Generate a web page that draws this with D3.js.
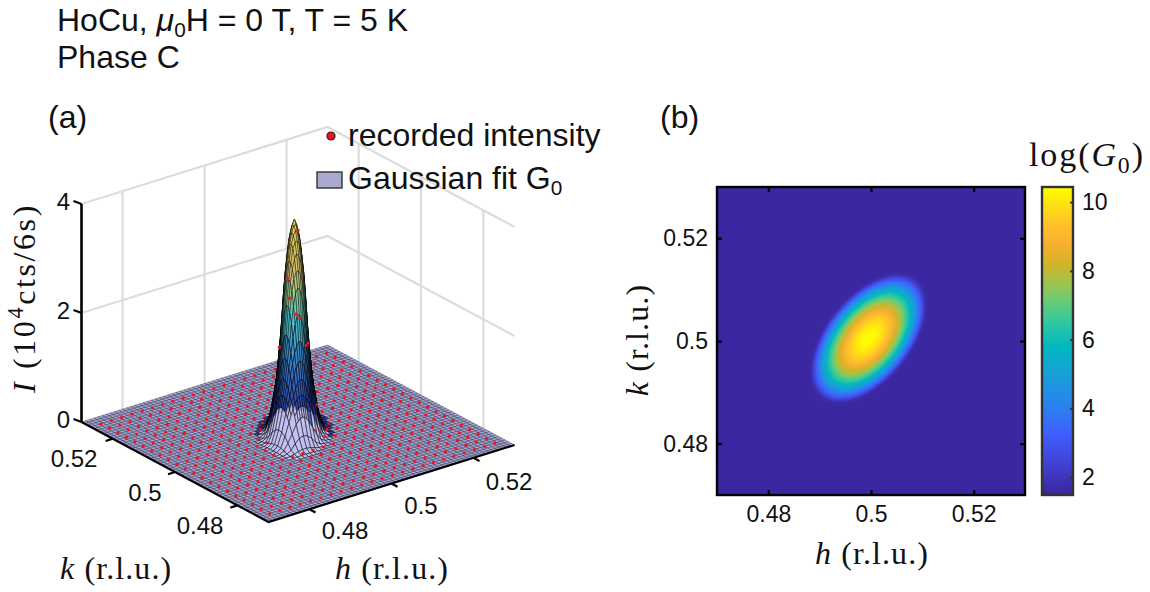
<!DOCTYPE html>
<html><head><meta charset="utf-8">
<script src="https://cdn.jsdelivr.net/npm/d3@7"></script>
<style>
html,body{margin:0;padding:0;background:#fff}
svg{display:block}
text{fill:#111}
.sans{font-family:"Liberation Sans",Arial,sans-serif}
.serif{font-family:"Liberation Serif","Times New Roman",serif}
</style></head><body>
<svg id="c" width="1150" height="592" xmlns="http://www.w3.org/2000/svg"></svg>
<script>
// ---------- values ----------
const hDomain = [0.47, 0.53];
const kDomain = [0.47, 0.53];
const zDomain = [0, 4];
const planarTicks = [0.48, 0.5, 0.52];
const zTicks = [0, 2, 4];
const colorTicks = [2, 4, 6, 8, 10];
const colorDomain = [1.48, 10.44];

// fit centre and ellipse of the footprint (rim of the floor in panel b)
const fitCentre = [0.4995, 0.5005];
const fitSemiAxes = [0.0146, 0.0082];
const fitAngleDeg = 51;

// log(G0) read against the elliptical radius (1 = rim)
const logRadius = [0, 0.1, 0.2, 0.3, 0.4, 0.5, 0.6, 0.7, 0.8, 0.9, 0.96, 1, 1.04, 2];
const logLevel  = [10.44, 10.35, 10.09, 9.65, 9.03, 8.24, 7.27, 6.13, 4.81, 3.31, 2.33, 1.72, 1.56, 1.56];

// fitted intensity (10^4 cts/6s) read against the same radius
const peakRadius = [0, 0.07, 0.143, 0.24, 0.33, 0.43, 0.57, 0.67, 0.75, 0.85, 2];
const peakHeight = [3.93, 3.8, 3.5, 2.8, 1.75, 0.97, 0.35, 0.08, 0.012, 0, 0];

// recorded intensity lattice
const latticeH = [0.4725,0.475,0.4775,0.48,0.4825,0.485,0.4875,0.49,0.4925,0.495,0.4975,0.5,0.5025,0.505,0.5075,0.51,0.5125,0.515,0.5175,0.52,0.5225,0.525,0.5275];
const latticeK = [0.473,0.4757,0.4784,0.4811,0.4838,0.4865,0.4892,0.4919,0.4946,0.4973,0.5,0.5027,0.5054,0.5081,0.5108,0.5135,0.5162,0.5189,0.5216,0.5243,0.527];
const recordedH = [0.495, 0.4975, 0.5, 0.5025, 0.505];
const recordedK = [0.5054, 0.5027, 0.5, 0.4973, 0.4946];
const recordedRows = [
  [0.02, 0.12, 0.45, 0.35, 0.06],
  [0.08, 1.56, 2.40, 1.97, 0.25],
  [0.18, 2.90, 3.73, 1.60, 0.12],
  [0.15, 2.33, 1.70, 0.55, 0.04],
  [0.06, 0.35, 0.22, 0.05, 0.01]
];

// colour stops
const colorStopLevels = [1.48, 2.5, 3.3, 4.0, 5.0, 5.8, 6.5, 7.2, 7.8, 8.2, 8.8, 9.4, 10.0, 10.44];
const colorStopValues = ["#3b249c","#4045d8","#4060ff","#2a80f0","#18a0d8","#00b8c0","#30c8a0","#70cc70","#b0c040","#d0b428","#f8b030","#ffc428","#ffe410","#ffff00"];
const surfaceStopHeights = [0, 0.45, 1.1, 1.7, 2.2, 2.6, 3, 3.5, 3.93];
const surfaceStopValues = ["#1a1a88","#24309c","#3a6ed0","#3c9ed8","#50c8cc","#94d090","#d8c878","#e8d060","#ecdc70"];

// ---------- helpers ----------
const svg = d3.select("#c");
const colour = d3.scaleLinear().domain(colorStopLevels).range(colorStopValues).clamp(true);
const surfColour = d3.scaleLinear().domain(surfaceStopHeights).range(surfaceStopValues).clamp(true);
const levelAt = d3.scaleLinear().domain(logRadius).range(logLevel).clamp(true);
const heightAt = d3.scaleLinear().domain(peakRadius).range(peakHeight).clamp(true);
const ca = Math.cos(fitAngleDeg*Math.PI/180), sa = Math.sin(fitAngleDeg*Math.PI/180);
function ellRadius(h,k){
  const dx=h-fitCentre[0], dy=k-fitCentre[1];
  const u=(dx*ca+dy*sa)/fitSemiAxes[0], v=(-dx*sa+dy*ca)/fitSemiAxes[1];
  return Math.hypot(u,v);
}

function addText(g,x,y,cls,size,parts,opts={}){
  const t=g.append("text").attr("x",x).attr("y",y).attr("class",cls).style("font-size",size+"px");
  if(opts.anchor) t.attr("text-anchor",opts.anchor);
  if(opts.rotate) t.attr("transform",`rotate(${opts.rotate} ${x} ${y})`);
  if(opts.spacing) t.style("letter-spacing",opts.spacing+"px");
  let carry=0;
  parts.forEach(p=>{
    const s=t.append("tspan").text(p.t);
    let dy=carry; carry=0;
    if(p.i) s.style("font-style","italic");
    if(p.sub){const d=size*.2; dy+=d; carry=-d; s.style("font-size",(size*p.sub)+"px");}
    if(p.sup){const d=-size*.36; dy+=d; carry=-d; s.style("font-size",(size*p.sup)+"px");}
    if(dy) s.attr("dy",dy);
  });
  return t;
}

// ---------- panel (a): 3D projection ----------
const origin=[268.5,522];
const hX=d3.scaleLinear().domain(hDomain).range([0,246]);
const hY=d3.scaleLinear().domain(hDomain).range([0,-77]);
const kX=d3.scaleLinear().domain(kDomain).range([0,-187]);
const kY=d3.scaleLinear().domain(kDomain).range([0,-100]);
const zY=d3.scaleLinear().domain(zDomain).range([0,-218]);
const P=(h,k,z)=>[origin[0]+hX(h)+kX(k), origin[1]+hY(h)+kY(k)+zY(z)];
const line=d3.line();
const a=svg.append("g").attr("id","panel-a");

// back walls
const walls=a.append("g").attr("fill","none").attr("stroke","#dcdcdc").attr("stroke-width",2.2);
zTicks.filter(z=>z>0).forEach(z=>{
  walls.append("path").attr("d",line([P(hDomain[0],kDomain[1],z),P(hDomain[1],kDomain[1],z),P(hDomain[1],kDomain[0],z)]));
});
planarTicks.forEach(h=>walls.append("path").attr("d",line([P(h,kDomain[1],0),P(h,kDomain[1],4)])));
planarTicks.forEach(k=>walls.append("path").attr("d",line([P(hDomain[1],k,0),P(hDomain[1],k,4)])));

// fitted surface
const meshN=60;
const meshStep=(hDomain[1]-hDomain[0])/meshN;
const surfAt=(h,k)=>heightAt(ellRadius(h,k));
const flat=[],raised=[];
function addFacet(h0,h1,k0,k1){
  const cs=[[h0,k0],[h1,k0],[h1,k1],[h0,k1]];
  const zs=cs.map(c=>surfAt(c[0],c[1]));
  const pts=cs.map((c,m)=>P(c[0],c[1],zs[m]));
  const zm=d3.mean(zs);
  const ground=P((h0+h1)/2,(k0+k1)/2,0);
  const sx=d3.mean(pts,p=>p[0]), sy=d3.mean(pts,p=>p[1]);
  if(zm<0.001){flat.push({pts,fill:"#a6a6da",op:1,sw:.3,order:ground[1]});return;}
  let fill,op,sw;
  if(sy>408+Math.pow((sx-294)/28,2)*17 && zm<0.9){fill="#bcbcf2";op=.92;sw=.5;}
  else {fill=surfColour(zm);op=zm<1.4?.84:.9;sw=zm>2?.4:.5;}
  raised.push({pts,fill,op,sw,order:ground[1]});
}
for(let i=0;i<meshN;i++)for(let j=0;j<meshN;j++){
  const h0=hDomain[0]+i*meshStep,h1=h0+meshStep,k0=kDomain[0]+j*meshStep,k1=k0+meshStep;
  if(ellRadius((h0+h1)/2,(k0+k1)/2)<0.5){
    const hm=(h0+h1)/2,km=(k0+k1)/2;
    addFacet(h0,hm,k0,km);addFacet(hm,h1,k0,km);addFacet(hm,h1,km,k1);addFacet(h0,hm,km,k1);
  } else addFacet(h0,h1,k0,k1);
}
flat.sort((x,y)=>x.order-y.order);
a.append("g").attr("stroke","#000").attr("stroke-linejoin","round")
  .selectAll("path").data(flat).join("path")
  .attr("d",d=>line(d.pts)+"Z").attr("fill",d=>d.fill).attr("stroke-width",d=>d.sw);

// recorded intensity points mixed with the raised facets, back to front
const recorded=[];
latticeH.forEach(h=>latticeK.forEach(k=>{
  const ih=recordedH.indexOf(h), ik=recordedK.indexOf(k);
  const z=(ih>=0&&ik>=0)?recordedRows[ik][ih]:0;
  recorded.push({dot:true,h,k,z,pt:P(h,k,z),order:z>=1.5?1e6:P(h,k,0)[1]+2});
}));
const scene=raised.concat(recorded).sort((x,y)=>x.order-y.order);
const gScene=a.append("g").attr("stroke-linejoin","round");
scene.forEach(d=>{
  if(d.dot) gScene.append("circle").attr("cx",d.pt[0]).attr("cy",d.pt[1]).attr("r",1.6).attr("fill","#f5101c");
  else gScene.append("path").attr("d",line(d.pts)+"Z").attr("fill",d.fill).attr("fill-opacity",d.op).attr("stroke","#000").attr("stroke-width",d.sw);
});

// axis lines
const ax=a.append("g").attr("fill","none").attr("stroke","#000").attr("stroke-width",2.2);
ax.append("path").attr("d",line([P(hDomain[0],kDomain[1],0),P(hDomain[0],kDomain[0],0),P(hDomain[1],kDomain[0],0)]));
ax.append("path").attr("d",line([P(hDomain[0],kDomain[1],0),P(hDomain[0],kDomain[1],4)])).attr("stroke-width",2.6);
planarTicks.forEach(k=>{const p=P(hDomain[0],k,0);ax.append("path").attr("d",line([p,[p[0]-7,p[1]+2.3]]));});
planarTicks.forEach(h=>{const p=P(h,kDomain[0],0);ax.append("path").attr("d",line([p,[p[0]+6,p[1]+3.3]]));});
zTicks.forEach(z=>{const p=P(hDomain[0],kDomain[1],z);ax.append("path").attr("d",line([p,[p[0]-8,p[1]-3]]));});

// tick labels panel a
const tickFmt=d=>String(d);
const kLabelPos=[[200,534],[145,501],[74,467]];
const hLabelPos=[[345,539],[421,514],[509,490]];
planarTicks.forEach((t,i)=>addText(a,kLabelPos[i][0],kLabelPos[i][1],"sans",24,[{t:tickFmt(t)}],{anchor:"middle"}));
planarTicks.forEach((t,i)=>addText(a,hLabelPos[i][0],hLabelPos[i][1],"sans",24,[{t:tickFmt(t)}],{anchor:"middle"}));
zTicks.forEach(z=>addText(a,70,P(hDomain[0],kDomain[1],z)[1]+6,"sans",24,[{t:tickFmt(z)}],{anchor:"end"}));

addText(a,60,579,"serif",32,[{t:"k",i:1},{t:" (r.l.u.)"}],{spacing:1.1});
addText(a,335,579,"serif",32,[{t:"h",i:1},{t:" (r.l.u.)"}],{spacing:1.1});
addText(a,35,298,"serif",32,[{t:"I",i:1},{t:" (10"},{t:"4",sup:.7},{t:"cts/6s)"}],{anchor:"middle",rotate:-90,spacing:2.6});

// legend
a.append("circle").attr("cx",331).attr("cy",136).attr("r",4).attr("fill","#f0101c").attr("stroke","#222").attr("stroke-width",1.2);
addText(a,348,146,"sans",32,[{t:"recorded intensity"}]);
a.append("rect").attr("x",317).attr("y",172).attr("width",25).attr("height",16).attr("fill","#a9a9d0").attr("stroke","#333").attr("stroke-width",1.4);
addText(a,348,189,"sans",32,[{t:"Gaussian fit G"},{t:"0",sub:.65}]);

// titles
addText(svg,57,31,"sans",32,[{t:"HoCu, "},{t:"μ",i:1},{t:"0",sub:.65},{t:"H = 0 T, T = 5 K"}]);
addText(svg,57,68,"sans",32,[{t:"Phase C"}]);
addText(svg,48,128,"sans",32,[{t:"(a)"}]);
addText(svg,660,128,"sans",32,[{t:"(b)"}]);

// ---------- panel (b): heat map ----------
const b=svg.append("g").attr("id","panel-b");
const box={x0:717,x1:1025,y0:187,y1:495};
const xS=d3.scaleLinear().domain(hDomain).range([box.x0,box.x1]);
const yS=d3.scaleLinear().domain(kDomain).range([box.y1,box.y0]);
const W=box.x1-box.x0,H=box.y1-box.y0;
const cv=document.createElement("canvas");cv.width=W;cv.height=H;
const ctx=cv.getContext("2d");
const img=ctx.createImageData(W,H);
for(let py=0;py<H;py++)for(let px=0;px<W;px++){
  const h=xS.invert(box.x0+px+.5),k=yS.invert(box.y0+py+.5);
  const c=d3.rgb(colour(levelAt(ellRadius(h,k))));
  const o=(py*W+px)*4;img.data[o]=c.r;img.data[o+1]=c.g;img.data[o+2]=c.b;img.data[o+3]=255;
}
ctx.putImageData(img,0,0);
b.append("image").attr("x",box.x0).attr("y",box.y0).attr("width",W).attr("height",H).attr("href",cv.toDataURL());

function style(g,sw,col){
  g.selectAll("path.domain").attr("stroke",col).attr("stroke-width",sw);
  g.selectAll("line").attr("stroke",col).attr("stroke-width",sw);
  g.selectAll("text").attr("class","sans").style("font-size","23px").attr("fill","#111");
}
const gB=b.append("g").attr("transform",`translate(0,${box.y1})`).call(d3.axisBottom(xS).tickValues(planarTicks).tickFormat(tickFmt).tickSize(-5).tickPadding(11));
const gT=b.append("g").attr("transform",`translate(0,${box.y0})`).call(d3.axisTop(xS).tickValues(planarTicks).tickFormat("").tickSize(-5));
const gL=b.append("g").attr("transform",`translate(${box.x0},0)`).call(d3.axisLeft(yS).tickValues(planarTicks).tickFormat(tickFmt).tickSize(-5).tickPadding(9));
const gR=b.append("g").attr("transform",`translate(${box.x1},0)`).call(d3.axisRight(yS).tickValues(planarTicks).tickFormat("").tickSize(-5));
[gB,gT,gL,gR].forEach(g=>style(g,2.2,"#000"));
[gB,gT,gL,gR].forEach(g=>g.selectAll("path.domain").attr("d",null));
b.append("rect").attr("x",box.x0).attr("y",box.y0).attr("width",W).attr("height",H).attr("fill","none").attr("stroke","#000").attr("stroke-width",2.4);

addText(b,872,564,"serif",32,[{t:"h",i:1},{t:" (r.l.u.)"}],{anchor:"middle",spacing:1.1});
addText(b,648,340,"serif",32,[{t:"k",i:1},{t:" (r.l.u.)"}],{anchor:"middle",rotate:-90,spacing:1.1});
addText(b,1029,166,"serif",34,[{t:"log("},{t:"G",i:1},{t:"0",sub:.7},{t:")"}],{spacing:1.9});

// colour bar
const cb={x0:1042,x1:1073,y0:187,y1:495};
const cY=d3.scaleLinear().domain(colorDomain).range([cb.y1,cb.y0]);
const defs=svg.append("defs");
const grad=defs.append("linearGradient").attr("id","cbGrad").attr("x1",0).attr("x2",0).attr("y1",1).attr("y2",0);
grad.selectAll("stop").data(colorStopLevels).join("stop")
  .attr("offset",d=>(d-colorDomain[0])/(colorDomain[1]-colorDomain[0]))
  .attr("stop-color",(d,i)=>colorStopValues[i]);
b.append("rect").attr("x",cb.x0).attr("y",cb.y0).attr("width",cb.x1-cb.x0).attr("height",cb.y1-cb.y0).attr("fill","url(#cbGrad)");
const gC=b.append("g").attr("transform",`translate(${cb.x1},0)`).call(d3.axisRight(cY).tickValues(colorTicks).tickFormat(tickFmt).tickSize(-3).tickPadding(9));
style(gC,2,"#333");
gC.selectAll("path.domain").attr("d",null);
gC.selectAll("text").attr("fill","#333");
b.append("rect").attr("x",cb.x0).attr("y",cb.y0).attr("width",cb.x1-cb.x0).attr("height",cb.y1-cb.y0).attr("fill","none").attr("stroke","#333").attr("stroke-width",2.4);
</script>
</body></html>
